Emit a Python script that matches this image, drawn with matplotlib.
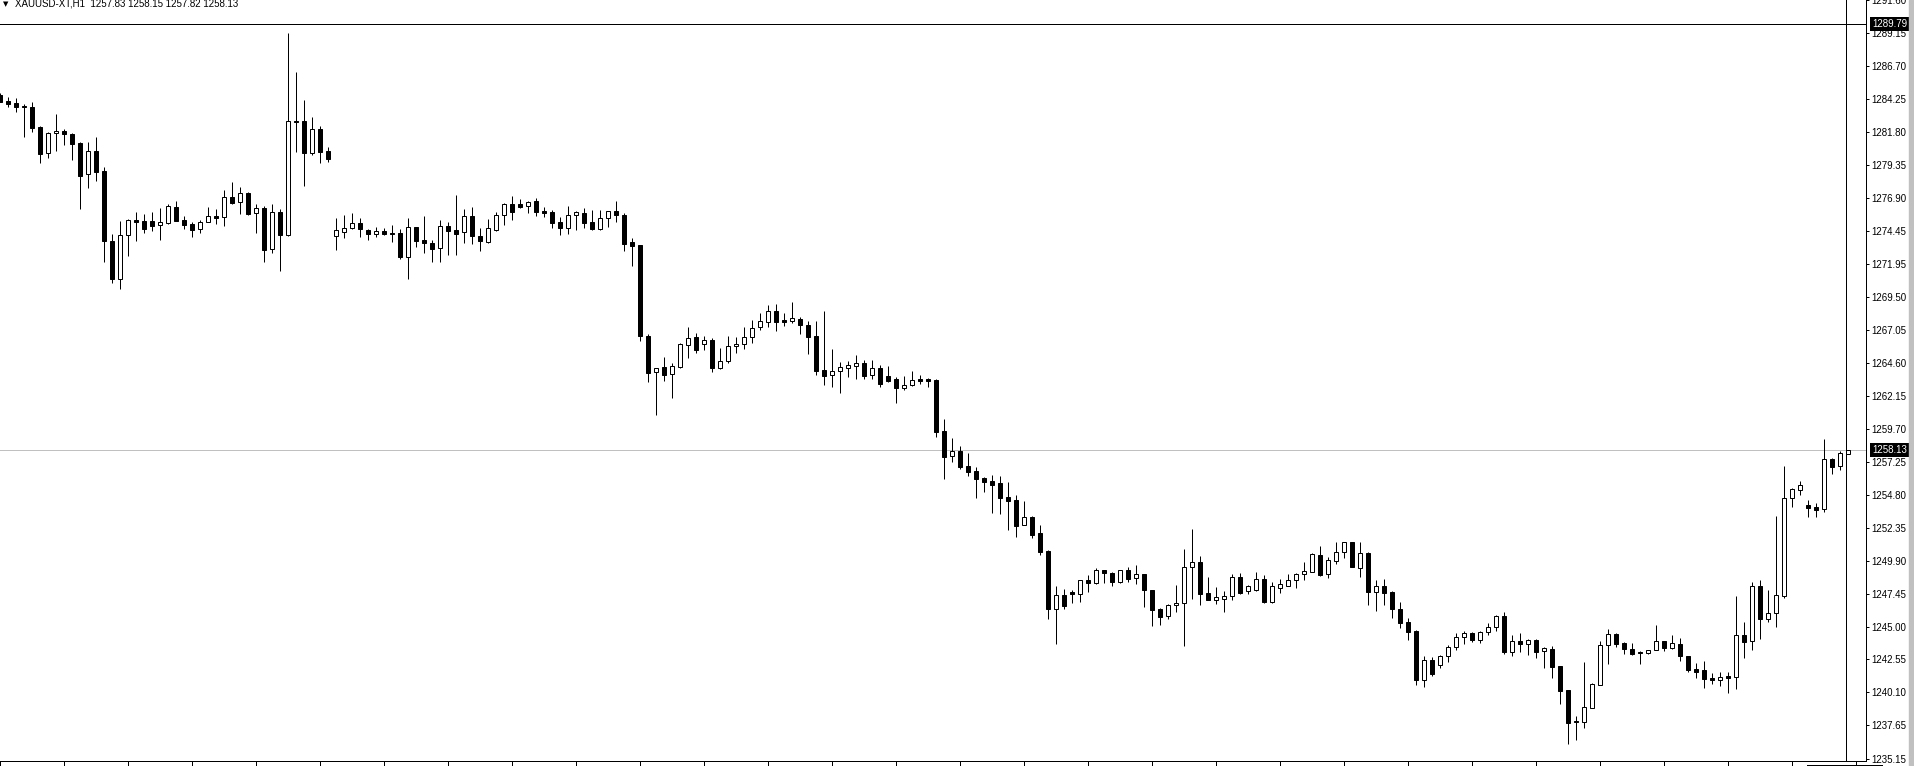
import matplotlib
matplotlib.use("Agg")
import matplotlib.pyplot as plt
import matplotlib.transforms as mtransforms
from matplotlib.lines import Line2D
from matplotlib.patches import Rectangle

# XAUUSD H1 candles (oldest -> newest)
symbol = "XAUUSD-XT,H1"
last_ohlc = [1257.83, 1258.15, 1257.82, 1258.13]

opens = [
    1284.53, 1284.09, 1283.94, 1283.72, 1283.62, 1282.15, 1280.19, 1281.68, 1281.86, 1281.61,
    1280.96, 1278.63, 1280.37, 1278.88, 1273.65, 1270.87, 1274.09, 1275.23, 1275.16, 1275.16,
    1274.84, 1275.04, 1276.20, 1275.23, 1274.94, 1274.54, 1275.06, 1275.53, 1275.43, 1276.95,
    1276.55, 1277.24, 1275.73, 1276.13, 1273.05, 1275.83, 1274.14, 1282.60, 1282.60, 1280.24,
    1282.00, 1280.39, 1274.02, 1274.38, 1274.67, 1275.00, 1274.50, 1274.23, 1274.43, 1274.28,
    1274.28, 1272.52, 1274.70, 1273.73, 1273.51, 1273.14, 1274.77, 1274.48, 1274.33, 1275.52,
    1274.03, 1273.63, 1274.52, 1275.59, 1276.41, 1276.41, 1276.26, 1276.63, 1275.91, 1275.81,
    1275.07, 1274.67, 1275.59, 1275.74, 1275.07, 1274.60, 1275.37, 1275.89, 1275.59, 1273.61,
    1273.36, 1266.59, 1263.93, 1264.28, 1263.76, 1264.33, 1265.91, 1266.51, 1265.99, 1266.29,
    1264.25, 1264.77, 1265.84, 1265.99, 1266.51, 1267.25, 1267.67, 1268.44, 1267.80, 1267.75,
    1267.85, 1267.40, 1266.61, 1264.05, 1263.68, 1263.98, 1264.25, 1264.40, 1264.57, 1263.68,
    1264.20, 1263.61, 1263.38, 1262.76, 1262.94, 1263.43, 1263.38, 1263.33, 1259.51, 1257.65,
    1258.03, 1256.91, 1256.57, 1256.04, 1255.82, 1255.67, 1254.63, 1254.41, 1252.52, 1253.12,
    1251.93, 1250.59, 1246.32, 1247.32, 1247.56, 1247.39, 1248.43, 1248.21, 1249.18, 1248.98,
    1248.33, 1249.18, 1248.58, 1248.88, 1247.69, 1246.30, 1245.75, 1246.57, 1246.72, 1249.40,
    1249.77, 1247.46, 1246.99, 1247.07, 1247.24, 1248.65, 1247.61, 1247.74, 1248.51, 1246.82,
    1247.89, 1248.03, 1248.44, 1248.89, 1249.09, 1250.33, 1248.89, 1249.90, 1250.52, 1251.29,
    1249.38, 1250.47, 1247.60, 1248.02, 1247.57, 1246.31, 1245.34, 1244.67, 1241.00, 1242.51,
    1242.12, 1242.79, 1243.46, 1244.20, 1244.50, 1244.03, 1244.57, 1244.97, 1245.76, 1243.13,
    1243.90, 1243.73, 1244.00, 1243.16, 1243.33, 1242.07, 1240.28, 1237.98, 1237.93, 1238.92,
    1240.63, 1243.61, 1244.42, 1243.80, 1243.33, 1243.10, 1243.05, 1243.23, 1243.90, 1243.43,
    1243.67, 1242.78, 1241.84, 1241.76, 1241.17, 1241.04, 1241.32, 1241.27, 1244.37, 1243.90,
    1248.01, 1245.58, 1245.98, 1247.29, 1254.54, 1255.18, 1254.04, 1253.87, 1253.72, 1257.44,
    1256.92, 1257.83,
]
highs = [
    1284.71, 1284.36, 1284.29, 1283.84, 1284.01, 1282.23, 1281.81, 1283.12, 1282.00, 1281.68,
    1281.06, 1281.04, 1281.41, 1279.15, 1274.19, 1275.16, 1275.31, 1275.83, 1275.68, 1275.83,
    1276.13, 1276.40, 1276.65, 1275.53, 1275.06, 1275.21, 1276.20, 1276.03, 1277.47, 1278.06,
    1277.69, 1277.32, 1276.40, 1276.25, 1276.40, 1276.05, 1289.13, 1286.27, 1284.16, 1282.90,
    1282.23, 1280.67, 1275.41, 1275.62, 1275.76, 1275.37, 1274.57, 1274.70, 1274.62, 1274.87,
    1274.57, 1275.37, 1274.70, 1275.54, 1273.73, 1275.22, 1275.07, 1277.10, 1276.06, 1276.19,
    1274.62, 1275.32, 1275.81, 1276.48, 1277.03, 1276.83, 1276.63, 1276.86, 1276.19, 1275.96,
    1275.47, 1276.29, 1275.89, 1276.11, 1275.96, 1275.96, 1275.94, 1276.66, 1275.74, 1273.88,
    1273.38, 1266.74, 1264.25, 1265.05, 1264.60, 1266.09, 1267.28, 1266.83, 1266.61, 1266.43,
    1265.71, 1266.61, 1266.53, 1267.28, 1267.80, 1268.32, 1268.91, 1268.99, 1268.32, 1269.14,
    1268.00, 1267.70, 1267.72, 1268.47, 1265.64, 1264.70, 1264.75, 1265.17, 1264.80, 1264.85,
    1264.43, 1264.40, 1263.58, 1263.66, 1264.03, 1263.73, 1263.51, 1263.38, 1260.46, 1259.04,
    1258.45, 1257.90, 1256.84, 1256.09, 1256.24, 1256.17, 1255.75, 1254.76, 1254.33, 1253.19,
    1252.52, 1250.66, 1248.01, 1247.76, 1247.74, 1248.43, 1248.83, 1249.32, 1249.18, 1249.03,
    1249.22, 1249.42, 1249.57, 1248.88, 1247.71, 1246.37, 1246.65, 1248.08, 1250.76, 1252.25,
    1250.24, 1248.70, 1247.94, 1247.64, 1248.88, 1248.98, 1248.06, 1249.03, 1248.83, 1248.28,
    1248.51, 1248.93, 1248.99, 1249.78, 1250.45, 1250.97, 1250.15, 1251.27, 1251.29, 1251.29,
    1251.29, 1250.52, 1248.47, 1248.52, 1247.65, 1246.83, 1245.61, 1244.75, 1242.81, 1242.74,
    1242.89, 1243.61, 1244.50, 1244.65, 1244.57, 1244.67, 1245.24, 1245.84, 1246.09, 1244.37,
    1244.50, 1244.10, 1244.08, 1243.51, 1243.53, 1242.07, 1240.31, 1238.32, 1242.37, 1240.78,
    1243.90, 1244.82, 1244.52, 1243.85, 1243.75, 1243.15, 1243.25, 1245.11, 1243.90, 1244.37,
    1244.14, 1242.83, 1242.26, 1242.43, 1241.52, 1241.59, 1241.59, 1247.27, 1245.34, 1248.29,
    1248.44, 1247.69, 1253.22, 1256.94, 1255.28, 1255.83, 1254.41, 1254.16, 1258.93, 1257.51,
    1258.03, 1258.15,
]
lows = [
    1283.99, 1283.67, 1283.29, 1281.43, 1281.81, 1279.50, 1279.87, 1280.39, 1280.84, 1279.72,
    1276.08, 1277.64, 1278.16, 1272.13, 1270.57, 1270.13, 1272.58, 1273.70, 1274.29, 1274.44,
    1273.77, 1274.94, 1275.18, 1274.59, 1273.99, 1274.29, 1275.06, 1274.94, 1274.81, 1276.42,
    1275.71, 1275.61, 1274.29, 1272.13, 1272.75, 1271.46, 1274.04, 1280.32, 1277.79, 1280.07,
    1279.50, 1279.57, 1273.03, 1273.93, 1274.57, 1274.00, 1273.76, 1274.00, 1274.10, 1273.63,
    1272.37, 1270.88, 1273.26, 1272.76, 1272.14, 1272.14, 1272.66, 1272.66, 1273.56, 1273.48,
    1272.96, 1273.51, 1274.45, 1274.87, 1275.27, 1276.16, 1275.79, 1275.57, 1275.49, 1274.62,
    1274.15, 1274.23, 1274.52, 1274.67, 1274.52, 1274.48, 1274.75, 1275.12, 1272.96, 1271.85,
    1266.27, 1263.22, 1260.75, 1263.28, 1262.02, 1264.20, 1265.00, 1265.37, 1265.59, 1263.95,
    1264.18, 1264.57, 1265.37, 1265.67, 1266.11, 1267.08, 1267.25, 1267.00, 1267.38, 1267.60,
    1266.78, 1265.29, 1263.73, 1262.99, 1262.84, 1262.39, 1263.58, 1263.43, 1263.43, 1263.43,
    1262.84, 1263.21, 1261.65, 1262.61, 1262.91, 1263.06, 1262.84, 1259.12, 1255.99, 1257.26,
    1256.74, 1256.22, 1254.58, 1255.03, 1253.47, 1253.39, 1252.20, 1251.68, 1252.52, 1251.56,
    1250.34, 1245.58, 1243.72, 1246.32, 1246.77, 1246.84, 1247.59, 1248.13, 1248.26, 1248.03,
    1248.21, 1248.33, 1248.18, 1246.47, 1245.06, 1245.13, 1245.58, 1246.08, 1243.57, 1247.07,
    1246.62, 1246.99, 1246.70, 1246.10, 1246.99, 1247.44, 1247.44, 1247.61, 1246.77, 1246.77,
    1247.51, 1248.01, 1247.90, 1248.49, 1249.09, 1248.79, 1248.64, 1249.68, 1250.08, 1249.46,
    1248.71, 1246.63, 1246.18, 1246.63, 1245.66, 1244.92, 1244.03, 1240.68, 1240.53, 1241.35,
    1241.92, 1242.39, 1243.26, 1243.73, 1243.88, 1243.78, 1244.40, 1244.67, 1242.99, 1242.84,
    1243.13, 1242.91, 1242.69, 1241.94, 1241.20, 1239.27, 1236.29, 1236.59, 1237.48, 1238.92,
    1240.63, 1242.24, 1243.50, 1242.98, 1242.90, 1242.24, 1242.98, 1243.23, 1243.20, 1243.35,
    1242.46, 1241.59, 1241.19, 1240.45, 1240.75, 1240.60, 1240.08, 1240.38, 1242.66, 1243.25,
    1244.10, 1245.36, 1244.99, 1247.12, 1253.89, 1254.81, 1253.15, 1253.15, 1253.54, 1256.37,
    1256.64, 1257.82,
]
closes = [
    1284.04, 1283.89, 1283.67, 1283.62, 1282.10, 1280.17, 1281.71, 1281.86, 1281.66, 1280.91,
    1278.53, 1280.37, 1278.83, 1273.70, 1270.87, 1274.09, 1275.21, 1275.11, 1274.59, 1274.81,
    1275.06, 1276.28, 1275.18, 1274.89, 1274.51, 1275.09, 1275.53, 1275.41, 1276.92, 1276.52,
    1277.22, 1275.68, 1276.13, 1273.03, 1275.80, 1274.14, 1282.60, 1282.53, 1280.24, 1282.00,
    1280.32, 1279.80, 1274.49, 1274.62, 1275.00, 1274.55, 1274.23, 1274.40, 1274.23, 1274.23,
    1272.52, 1274.70, 1273.71, 1273.56, 1273.11, 1274.77, 1274.45, 1274.23, 1275.52, 1274.08,
    1273.66, 1274.62, 1275.59, 1276.41, 1275.86, 1276.24, 1276.61, 1275.86, 1275.79, 1275.05,
    1274.67, 1275.59, 1275.81, 1275.05, 1274.60, 1275.37, 1275.89, 1275.59, 1273.48, 1273.33,
    1266.59, 1263.89, 1264.20, 1263.73, 1264.35, 1266.01, 1266.43, 1265.59, 1266.29, 1264.25,
    1264.77, 1265.84, 1266.01, 1266.51, 1267.18, 1267.70, 1268.44, 1267.67, 1267.67, 1267.92,
    1267.40, 1266.56, 1264.03, 1263.66, 1263.98, 1264.28, 1264.43, 1264.57, 1263.66, 1264.20,
    1263.06, 1263.28, 1262.76, 1262.94, 1263.31, 1263.28, 1263.28, 1259.49, 1257.63, 1258.03,
    1256.89, 1256.51, 1256.00, 1255.77, 1255.55, 1254.58, 1254.36, 1252.50, 1253.12, 1251.83,
    1250.56, 1246.32, 1247.32, 1246.55, 1247.44, 1248.43, 1248.21, 1249.18, 1249.00, 1248.33,
    1249.18, 1248.56, 1248.88, 1247.69, 1246.25, 1245.73, 1246.57, 1246.74, 1249.42, 1249.77,
    1247.44, 1246.99, 1247.17, 1247.24, 1248.65, 1247.51, 1247.98, 1248.51, 1246.82, 1248.03,
    1248.13, 1248.43, 1248.91, 1249.11, 1250.40, 1248.84, 1249.93, 1250.52, 1251.27, 1249.46,
    1250.47, 1247.60, 1248.02, 1247.52, 1246.33, 1245.29, 1244.62, 1241.05, 1242.49, 1241.50,
    1242.81, 1243.48, 1244.23, 1244.50, 1244.03, 1244.60, 1244.94, 1245.76, 1243.13, 1243.90,
    1243.73, 1244.00, 1243.13, 1243.38, 1242.02, 1240.23, 1237.85, 1237.93, 1238.99, 1240.73,
    1243.61, 1244.42, 1243.72, 1243.35, 1242.98, 1243.03, 1243.23, 1243.90, 1243.43, 1243.75,
    1242.83, 1241.79, 1241.64, 1241.12, 1241.04, 1241.22, 1241.19, 1244.34, 1243.87, 1247.99,
    1245.58, 1245.98, 1247.32, 1254.54, 1255.21, 1255.50, 1253.84, 1253.69, 1257.44, 1256.89,
    1257.88, 1258.13,
]

price_ticks = [
    1291.60, 1289.15, 1286.70, 1284.25, 1281.80, 1279.35, 1276.90, 1274.45,
    1271.95, 1269.50, 1267.05, 1264.60, 1262.15, 1259.70, 1257.25, 1254.80,
    1252.35, 1249.90, 1247.45, 1245.00, 1242.55, 1240.10, 1237.65, 1235.15,
]
hline_price = 1289.79
bid_price = 1258.13
vline_bar = 230.67

W, H = 1915, 766
px = 0.72  # one pixel in points at dpi 100

fig = plt.figure(figsize=(W / 100, H / 100), dpi=100)
ax = fig.add_axes([0, 5 / H, 1866 / W, 761 / H])

n = min(len(opens), len(highs), len(lows), len(closes))
x = list(range(n))
bottoms = [min(o, c) for o, c in zip(opens, closes)]
heights = [abs(c - o) for o, c in zip(opens, closes)]
colors = ["black" if c < o else "white" for o, c in zip(opens, closes)]

ax.axhline(bid_price, color="#c0c0c0", lw=px, zorder=0)
ax.vlines(x, lows[:n], highs[:n], color="black", lw=px, zorder=1)
ax.bar(x, heights[:n], width=0.5, bottom=bottoms[:n], color=colors[:n],
       edgecolor="black", linewidth=px, zorder=2)

ax.axhline(hline_price, color="black", lw=px, zorder=3)
ax.axvline(vline_bar, color="black", lw=px, zorder=3)

ax.set_xlim(-0.0375, 233.21)
ax.set_ylim(1235.00, 1291.60)

for side in ["left", "top"]:
    ax.spines[side].set_visible(False)
for side in ["right", "bottom"]:
    ax.spines[side].set_linewidth(px)

ax.yaxis.tick_right()
ax.set_yticks(price_ticks)
ax.set_yticklabels([f"{t:.2f}" for t in price_ticks],
                   fontsize=7, fontfamily="Liberation Sans")
ax.tick_params(axis="y", length=3 * px, width=px, pad=2)
ax.set_xticks(range(0, 233, 8))
ax.set_xticklabels([])
ax.tick_params(axis="x", length=5 * px, width=px, direction="out")

# price labels on the scale
trans = mtransforms.blended_transform_factory(ax.transAxes, ax.transData)
for price in [hline_price, bid_price]:
    ax.text(1872 / 1866, price, f"{price:.2f}", transform=trans,
            ha="left", va="center", color="white", fontsize=7,
            family="Liberation Sans", zorder=5, clip_on=False,
            bbox=dict(boxstyle="square,pad=0.2", fc="black", ec="none"))

# chart title
fig.text(3 / W, 1 - 4 / H, "\u25bc", fontsize=5, va="center", ha="left",
         family="DejaVu Sans")
fig.text(15 / W, 1 - 4 / H,
         f"{symbol}  " + " ".join(f"{v:.2f}" for v in last_ohlc),
         fontsize=7, va="center", ha="left", family="Liberation Sans")

# shift marker and scroll bar edge
fig.add_artist(Line2D([1807 / W, 1882 / W], [1 / H, 1 / H], color="black",
                      lw=px, transform=fig.transFigure))
fig.add_artist(Rectangle((1909 / W, 0), 4 / W, 1, color="#c0c0c0",
                         transform=fig.transFigure))

fig.savefig("out.png", dpi=100)
